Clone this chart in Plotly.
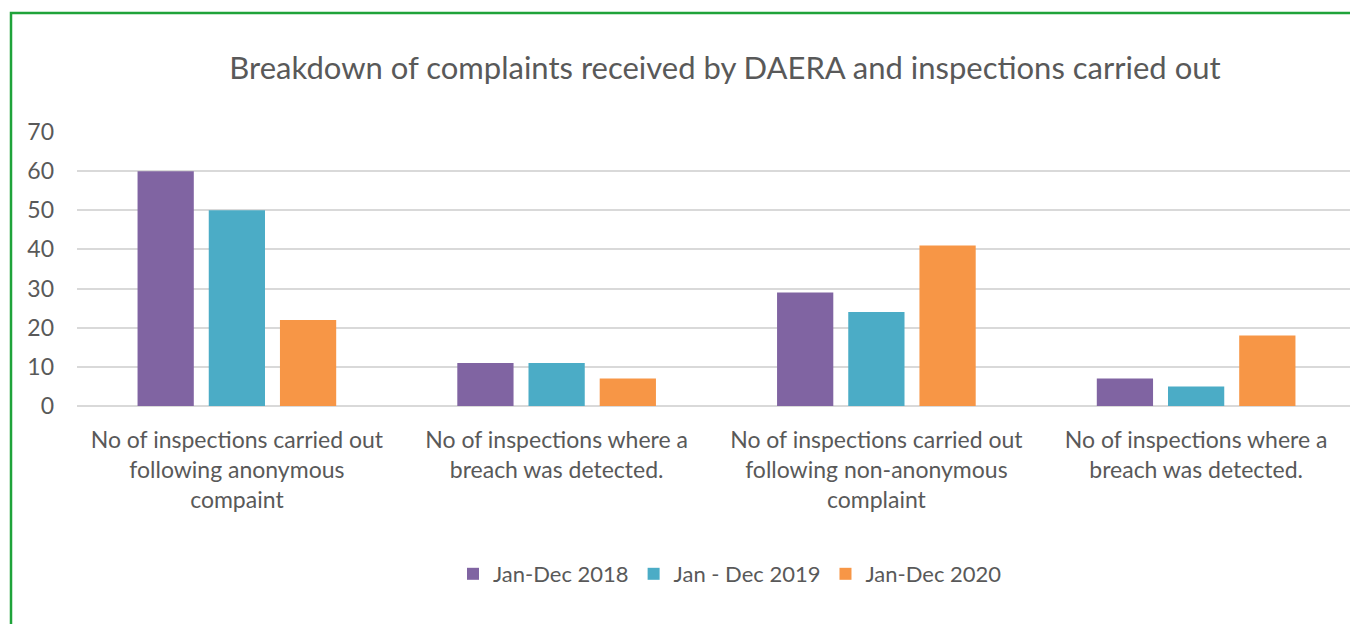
import plotly.graph_objects as go

categories = [
    "No of inspections carried out<br>following anonymous<br>compaint",
    "No of inspections where a<br>breach was detected.",
    "No of inspections carried out<br>following non-anonymous<br>complaint",
    "No of inspections where a<br>breach was detected.",
]
series_names = ["Jan-Dec 2018", "Jan - Dec 2019", "Jan-Dec 2020"]
values_2018 = [60, 11, 29, 7]
values_2019 = [50, 11, 24, 5]
values_2020 = [22, 7, 41, 18]
colors = ["#8064A2", "#4BACC6", "#F79646"]

x_idx = list(range(len(categories)))
FONT = "Lato"
TXT = "#595959"

fig = go.Figure()
for name, vals, col in zip(series_names, [values_2018, values_2019, values_2020], colors):
    fig.add_trace(go.Bar(x=x_idx, y=vals, name=name, marker=dict(color=col, line=dict(width=0))))

# page body has an 8px margin: work in figure coords = reference coords - 8
OFF = 8
W, H = 1358 - OFF, 624 - OFF
L, R, T, B = 77 - OFF, 2, 132 - OFF, 624 - 406
pw = W - L - R
ph = H - T - B

fig.update_layout(
    width=W, height=H,
    margin=dict(l=L, r=R, t=T, b=B),
    paper_bgcolor="white", plot_bgcolor="white",
    barmode="group", bargap=0.332, bargroupgap=0.21,
    font=dict(family=FONT, color=TXT, size=22),
    title=dict(text="Breakdown of complaints received by DAERA and inspections carried out",
               x=(725 - 77) / pw, xref="paper", xanchor="center",
               y=1 - (68 - OFF) / H, yref="container", yanchor="middle",
               font=dict(family=FONT, size=31, color=TXT)),
    xaxis=dict(tickmode="array", tickvals=x_idx, ticktext=categories,
               showgrid=False, showline=False, ticks="", zeroline=False,
               tickfont=dict(size=23, color=TXT), range=[-0.5, 3.5], ticklabelstandoff=18),
    yaxis=dict(range=[0, 70], dtick=10, tick0=0, showgrid=True, gridcolor="#d9d9d9", gridwidth=1.5,
               zeroline=True, zerolinecolor="#d9d9d9", zerolinewidth=1.5,
               showline=False, ticks="", tickfont=dict(size=23, color=TXT), ticklabelstandoff=22),
    legend=dict(orientation="h", x=(730 - 77) / pw, xanchor="center", y=-(574 - 406) / ph, yanchor="middle",
                font=dict(size=22, color=TXT), itemwidth=30, traceorder="normal"),
    showlegend=True,
)

fig.add_shape(type="rect", xref="paper", yref="paper",
              x0=(11 - 77) / pw, x1=(1358 + 20 - 77) / pw,
              y0=-(624 + 20 - 406) / ph, y1=(406 - 13) / ph,
              line=dict(color="#1FA33A", width=2.5), fillcolor="rgba(0,0,0,0)", layer="above")

fig.write_html("out.html")
